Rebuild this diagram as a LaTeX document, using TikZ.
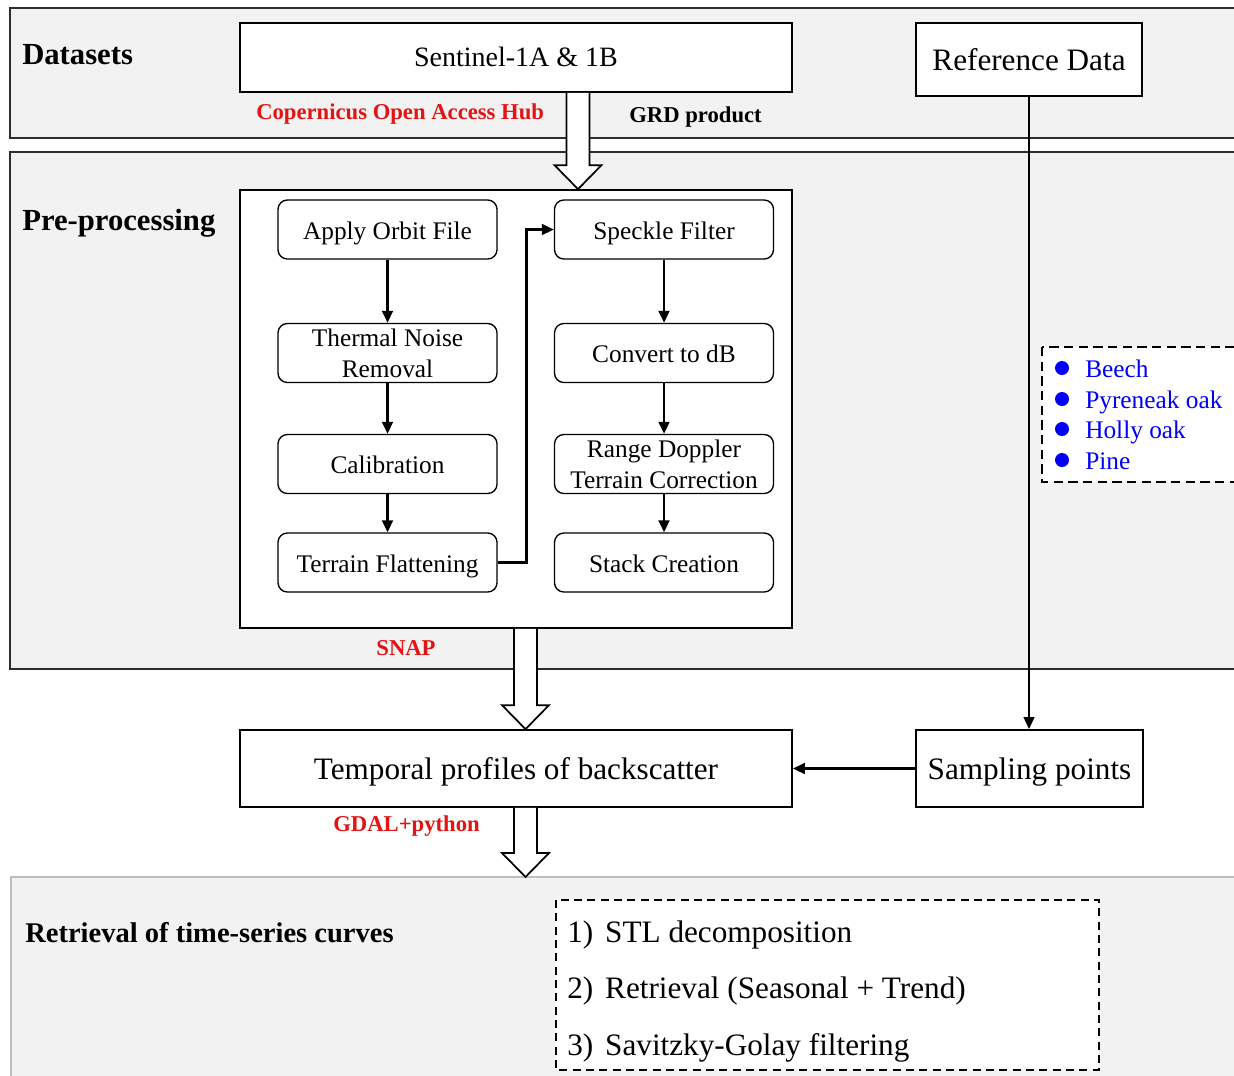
\documentclass[tikz,border=0pt]{standalone}
\usepackage{fontspec}
\setmainfont{Liberation Serif}
\usetikzlibrary{arrows.meta,calc}
\definecolor{bandgray}{RGB}{242,242,242}
\definecolor{bandline}{RGB}{45,45,45}
\definecolor{lightline}{RGB}{190,190,190}
\definecolor{labred}{RGB}{228,20,20}
\definecolor{listblue}{RGB}{0,0,250}
\newcommand{\hollowarrow}[2]{%
  \filldraw[hollowarr] ($(#1)+(-11.5,0)$) -- ($(#2)+(-11.5,-24)$) -- ($(#2)+(-23.5,-24)$) -- (#2)
    -- ($(#2)+(23.5,-24)$) -- ($(#2)+(11.5,-24)$) -- ($(#1)+(11.5,0)$);}
\begin{document}
\begin{tikzpicture}[x=0.75pt,y=-0.75pt,
  band/.style={fill=bandgray, draw=bandline, line width=1.3pt},
  bandlight/.style={fill=bandgray, draw=lightline, line width=1.3pt},
  box/.style={draw, line width=1.3pt, fill=white, inner sep=0pt, align=center},
  capc/.style={text height=#1, text depth=0pt},
  stepbox/.style={draw, line width=1pt, rounded corners=7pt, fill=white, inner sep=0pt,
    minimum width=164.25pt, minimum height=44.25pt, align=center,
    font=\fontsize{19pt}{23pt}\selectfont},
  flow/.style={line width=2.2pt, -{Triangle[length=9pt,width=8pt]}},
  hollowarr/.style={draw=black, line width=1.3pt, fill=white, line join=miter},
  redlbl/.style={text=labred, font=\bfseries\fontsize{17pt}{20pt}\selectfont, inner sep=0pt},
  blklbl/.style={font=\bfseries\fontsize{17pt}{20pt}\selectfont, inner sep=0pt},
  title/.style={font=\bfseries\fontsize{23pt}{27pt}\selectfont, inner sep=0pt, anchor=base west},
  bigtext/.style={font=\fontsize{23.4pt}{28pt}\selectfont},
  bullet/.style={circle, fill=listblue, inner sep=0pt, minimum size=10.5pt},
  listtext/.style={text=listblue, font=\fontsize{19pt}{23pt}\selectfont, inner sep=0pt, anchor=base west},
  itemtext/.style={font=\fontsize{23.4pt}{28pt}\selectfont, inner sep=0pt, anchor=base west}
]
\useasboundingbox (0,0) rectangle (1234,1075);
\fill[white] (0,0) rectangle (1234,1075);
\begin{scope}
\clip (0,0) rectangle (1234,1075);
% bands
\filldraw[band] (10,8) rectangle (1260,138);
\filldraw[band] (10,152) rectangle (1260,669);
\filldraw[bandlight] (11,877) rectangle (1260,1100);
\coordinate (b3top) at (525.5,877);

% titles
\node[title] at (22,64) {Datasets};
\node[title] at (22,230) {Pre-processing};
\node[title, font=\bfseries\fontsize{21.4pt}{25pt}\selectfont] at (25,942) {Retrieval of time-series curves};

% datasets
\node[box, capc=14.2pt, minimum width=414pt, minimum height=51.75pt, font=\fontsize{21pt}{25pt}\selectfont] (sent) at (516,57.5) {Sentinel-1A \& 1B};
\node[box, capc=15.8pt, bigtext, minimum width=169.5pt, minimum height=54.75pt] (ref) at (1029,59.5) {Reference Data};
\node[redlbl, anchor=base west] at (256,119) {Copernicus Open Access Hub};
\node[blklbl, anchor=base west] at (629,122) {GRD product};

% pre-processing inner box
\node[box, minimum width=414pt, minimum height=328.5pt] (inner) at (516,409) {};
\node[stepbox, capc=14.5pt] (ao) at (387.5,229.5) {Apply Orbit File};
\node[stepbox] (tn) at (387.5,353) {Thermal Noise\\Removal};
\node[stepbox, capc=14.5pt] (ca) at (387.5,464) {Calibration};
\node[stepbox, capc=14.5pt] (tf) at (387.5,562.5) {Terrain Flattening};
\node[stepbox, capc=14.5pt] (sf) at (664,229.5) {Speckle Filter};
\node[stepbox, capc=14.5pt] (db) at (664,353) {Convert to dB};
\node[stepbox] (rd) at (664,464) {Range Doppler\\Terrain Correction};
\node[stepbox, capc=14.5pt] (sc) at (664,562.5) {Stack Creation};
\draw[flow] (ao) -- (tn);
\draw[flow] (tn) -- (ca);
\draw[flow] (ca) -- (tf);
\draw[flow] (sf) -- (db);
\draw[flow] (db) -- (rd);
\draw[flow] (rd) -- (sc);
\draw[flow] (tf.east) -- ++(29,0) |- (sf.west);
\node[redlbl, anchor=base] at (406,655) {SNAP};

% bullet list
\filldraw[fill=white, draw=black, line width=1.2pt, dash pattern=on 7pt off 4pt] (1042,347) rectangle (1260,482);
\foreach \yy/\tt in {368/Beech, 399/Pyreneak oak, 429/Holly oak, 460/Pine}{
  \node[bullet] at (1062,\yy) {};
  \node[listtext] at (1085,\yy+9.5) {\tt};
}

% temporal / sampling
\node[box, capc=15.8pt, bigtext, minimum width=414pt, minimum height=57.75pt] (temp) at (516,768.5) {Temporal profiles of backscatter};
\node[box, capc=15.8pt, bigtext, minimum width=170.25pt, minimum height=57.75pt] (samp) at (1029.5,768.5) {Sampling points};
\draw[line width=1.5pt, -{Triangle[length=9pt,width=8pt]}] (ref.south) -- (ref.south |- samp.north);
\draw[line width=2pt, -{Triangle[length=9pt,width=8pt]}] (samp.west) -- (temp.east);
\node[redlbl, anchor=base west] at (333,831) {GDAL+python};

% hollow arrows
\coordinate (h1s) at ($(sent.south)+(62,0)$);
\coordinate (h1e) at (h1s |- inner.north);
\hollowarrow{h1s}{h1e}
\coordinate (h2s) at ($(inner.south)+(9.5,0)$);
\coordinate (h2e) at (h2s |- temp.north);
\hollowarrow{h2s}{h2e}
\coordinate (h3s) at ($(temp.south)+(9.5,0)$);
\hollowarrow{h3s}{b3top}

% retrieval list
\filldraw[fill=white, draw=black, line width=1.2pt, dash pattern=on 6pt off 4pt] (556,900) rectangle (1099,1070);
\node[itemtext] at (567,942) {\makebox[28.5pt][l]{1)}STL decomposition};
\node[itemtext] at (567,998) {\makebox[28.5pt][l]{2)}Retrieval (Seasonal + Trend)};
\node[itemtext] at (567,1055) {\makebox[28.5pt][l]{3)}Savitzky-Golay filtering};
\end{scope}
\end{tikzpicture}
\end{document}
